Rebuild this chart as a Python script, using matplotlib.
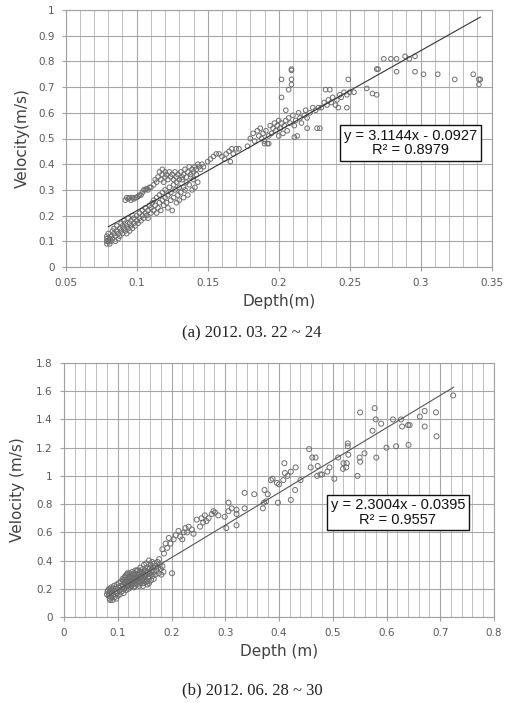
import matplotlib
matplotlib.use("Agg")
import matplotlib.pyplot as plt
from matplotlib.ticker import MultipleLocator

# ---- (a) 2012.03.22~24 ----
a_low = [
    (0.079, 0.09), (0.079, 0.10), (0.079, 0.11), (0.079, 0.12), (0.080, 0.10), (0.080, 0.13),
    (0.081, 0.09), (0.081, 0.11), (0.082, 0.12), (0.082, 0.10), (0.083, 0.14), (0.083, 0.11),
    (0.084, 0.13), (0.084, 0.15), (0.085, 0.12), (0.085, 0.10), (0.086, 0.14), (0.086, 0.16),
    (0.087, 0.13), (0.087, 0.11), (0.088, 0.15), (0.088, 0.12), (0.089, 0.17), (0.089, 0.14),
    (0.090, 0.13), (0.090, 0.16), (0.091, 0.15), (0.091, 0.18), (0.092, 0.14), (0.092, 0.17),
    (0.093, 0.16), (0.093, 0.13), (0.094, 0.19), (0.094, 0.15), (0.095, 0.17), (0.095, 0.14),
    (0.096, 0.18), (0.096, 0.16), (0.097, 0.20), (0.097, 0.15), (0.098, 0.17), (0.098, 0.19),
    (0.099, 0.16), (0.100, 0.18), (0.100, 0.20), (0.101, 0.17), (0.102, 0.19), (0.102, 0.21),
    (0.103, 0.18), (0.104, 0.20), (0.104, 0.22), (0.105, 0.19), (0.106, 0.21), (0.106, 0.23),
    (0.107, 0.20), (0.108, 0.22), (0.108, 0.19), (0.109, 0.24), (0.110, 0.21), (0.110, 0.23),
    (0.111, 0.25), (0.112, 0.22), (0.112, 0.26), (0.113, 0.24), (0.114, 0.21), (0.114, 0.27),
    (0.115, 0.23), (0.116, 0.25), (0.116, 0.28), (0.117, 0.22), (0.118, 0.26), (0.118, 0.29),
    (0.119, 0.24), (0.120, 0.27), (0.120, 0.30), (0.121, 0.25), (0.122, 0.28), (0.122, 0.23),
    (0.123, 0.31), (0.124, 0.26), (0.124, 0.29), (0.125, 0.22), (0.126, 0.27), (0.126, 0.32),
    (0.127, 0.30), (0.128, 0.25), (0.128, 0.33), (0.129, 0.28), (0.130, 0.31), (0.130, 0.26),
    (0.131, 0.29), (0.132, 0.34), (0.133, 0.27), (0.133, 0.31), (0.134, 0.30), (0.135, 0.33),
    (0.136, 0.28), (0.137, 0.32), (0.138, 0.35), (0.139, 0.30), (0.140, 0.34), (0.141, 0.31),
    (0.142, 0.36), (0.143, 0.33),
]
a_upper = [
    (0.092, 0.26), (0.093, 0.27), (0.094, 0.265), (0.095, 0.27), (0.096, 0.26), (0.097, 0.27),
    (0.098, 0.265), (0.099, 0.27), (0.100, 0.27), (0.101, 0.275), (0.102, 0.28), (0.103, 0.28),
    (0.104, 0.29), (0.105, 0.30), (0.106, 0.30), (0.107, 0.305), (0.108, 0.30), (0.109, 0.31),
    (0.110, 0.31), (0.112, 0.32), (0.113, 0.34), (0.114, 0.33), (0.115, 0.35), (0.116, 0.37),
    (0.117, 0.34), (0.118, 0.36), (0.118, 0.38), (0.119, 0.33), (0.120, 0.35), (0.120, 0.37),
    (0.121, 0.36), (0.122, 0.34), (0.123, 0.37), (0.124, 0.35), (0.125, 0.36), (0.126, 0.34),
    (0.127, 0.37), (0.128, 0.35), (0.129, 0.36), (0.130, 0.34), (0.131, 0.37), (0.132, 0.35),
    (0.133, 0.36), (0.134, 0.38), (0.135, 0.35), (0.136, 0.37), (0.137, 0.39), (0.138, 0.36),
    (0.139, 0.38), (0.140, 0.37), (0.141, 0.39), (0.142, 0.38), (0.143, 0.40), (0.144, 0.39),
    (0.145, 0.38), (0.146, 0.40), (0.147, 0.39),
]
a_mid = [
    (0.150, 0.41), (0.152, 0.42), (0.154, 0.43), (0.156, 0.44), (0.158, 0.44), (0.160, 0.43),
    (0.162, 0.42), (0.163, 0.44), (0.165, 0.45), (0.166, 0.41), (0.167, 0.46), (0.168, 0.44),
    (0.170, 0.46), (0.172, 0.46), (0.178, 0.47), (0.180, 0.50), (0.182, 0.52), (0.183, 0.49),
    (0.185, 0.53), (0.186, 0.51), (0.187, 0.54), (0.188, 0.50), (0.189, 0.52), (0.190, 0.49),
    (0.191, 0.53), (0.192, 0.48), (0.193, 0.51), (0.194, 0.55), (0.195, 0.52), (0.196, 0.54),
    (0.197, 0.56), (0.198, 0.53), (0.199, 0.55), (0.200, 0.57), (0.200, 0.51), (0.201, 0.54),
    (0.202, 0.56), (0.203, 0.52), (0.204, 0.55), (0.205, 0.57), (0.206, 0.53), (0.207, 0.58),
    (0.208, 0.56), (0.210, 0.59), (0.211, 0.55), (0.212, 0.57), (0.214, 0.60), (0.215, 0.58),
    (0.216, 0.56), (0.218, 0.59), (0.219, 0.61), (0.220, 0.58), (0.222, 0.60), (0.224, 0.62),
    (0.226, 0.61), (0.228, 0.62), (0.230, 0.62), (0.232, 0.64), (0.234, 0.63), (0.235, 0.65),
    (0.237, 0.64), (0.238, 0.66), (0.240, 0.63), (0.241, 0.65), (0.243, 0.67), (0.244, 0.66),
    (0.246, 0.68), (0.248, 0.67), (0.250, 0.68), (0.253, 0.68),
]
a_high = [
    (0.274, 0.81), (0.279, 0.81), (0.283, 0.81), (0.289, 0.82), (0.292, 0.81), (0.296, 0.82),
    (0.283, 0.76), (0.296, 0.76), (0.302, 0.75), (0.312, 0.75), (0.324, 0.73), (0.337, 0.75),
    (0.341, 0.73), (0.341, 0.71), (0.342, 0.73), (0.269, 0.77), (0.270, 0.77), (0.262, 0.695),
    (0.266, 0.675), (0.269, 0.67), (0.249, 0.73), (0.248, 0.62), (0.242, 0.62), (0.236, 0.69),
    (0.233, 0.69), (0.229, 0.54), (0.227, 0.54), (0.220, 0.54), (0.213, 0.51), (0.211, 0.505),
    (0.202, 0.73), (0.202, 0.66), (0.209, 0.77), (0.209, 0.765), (0.209, 0.73), (0.209, 0.71),
    (0.207, 0.69), (0.205, 0.61), (0.190, 0.48), (0.193, 0.48),
]
a_slope, a_icpt = 3.1144, -0.0927
a_fit_x = [0.08, 0.342]

# ---- (b) 2012.06.28~30 ----
b_cluster = [
    (0.080, 0.16), (0.081, 0.18), (0.082, 0.19), (0.083, 0.15), (0.084, 0.20), (0.085, 0.17),
    (0.085, 0.13), (0.086, 0.12), (0.087, 0.19), (0.088, 0.21), (0.088, 0.14), (0.089, 0.17),
    (0.090, 0.12), (0.091, 0.20), (0.092, 0.16), (0.093, 0.22), (0.094, 0.14), (0.095, 0.18),
    (0.096, 0.20), (0.097, 0.13), (0.098, 0.23), (0.099, 0.17), (0.100, 0.15), (0.101, 0.21),
    (0.102, 0.24), (0.103, 0.19), (0.104, 0.16), (0.105, 0.22), (0.106, 0.25), (0.107, 0.18),
    (0.108, 0.20), (0.109, 0.27), (0.110, 0.23), (0.111, 0.17), (0.112, 0.25), (0.113, 0.28),
    (0.114, 0.21), (0.115, 0.19), (0.116, 0.26), (0.117, 0.30), (0.118, 0.23), (0.119, 0.27),
    (0.120, 0.20), (0.121, 0.29), (0.122, 0.31), (0.123, 0.24), (0.124, 0.27), (0.125, 0.22),
    (0.126, 0.30), (0.127, 0.32), (0.128, 0.25), (0.129, 0.28), (0.130, 0.21), (0.131, 0.31),
    (0.132, 0.26), (0.133, 0.33), (0.134, 0.29), (0.135, 0.23), (0.136, 0.30), (0.137, 0.27),
    (0.138, 0.33), (0.139, 0.25), (0.140, 0.31), (0.141, 0.28), (0.142, 0.35), (0.143, 0.24),
    (0.144, 0.32), (0.145, 0.29), (0.146, 0.26), (0.147, 0.34), (0.148, 0.30), (0.149, 0.37),
    (0.150, 0.27), (0.151, 0.33), (0.152, 0.30), (0.153, 0.38), (0.154, 0.25), (0.155, 0.35),
    (0.156, 0.32), (0.157, 0.28), (0.158, 0.40), (0.159, 0.34), (0.160, 0.31), (0.161, 0.37),
    (0.162, 0.26), (0.163, 0.33), (0.164, 0.39), (0.165, 0.29), (0.166, 0.35), (0.167, 0.32),
    (0.168, 0.38), (0.170, 0.30), (0.171, 0.36), (0.172, 0.33), (0.174, 0.39), (0.175, 0.35),
    (0.176, 0.31), (0.178, 0.37), (0.180, 0.34), (0.181, 0.30), (0.183, 0.36), (0.185, 0.32),
    (0.110, 0.26), (0.112, 0.20), (0.114, 0.29), (0.116, 0.22), (0.118, 0.31), (0.120, 0.25),
    (0.122, 0.27), (0.124, 0.21), (0.126, 0.25), (0.128, 0.30), (0.130, 0.27), (0.132, 0.22),
    (0.134, 0.25), (0.136, 0.33), (0.138, 0.28), (0.140, 0.22), (0.142, 0.29), (0.144, 0.26),
    (0.146, 0.31), (0.148, 0.24), (0.150, 0.32), (0.152, 0.25), (0.154, 0.30), (0.156, 0.28),
    (0.158, 0.24), (0.160, 0.35), (0.115, 0.24), (0.119, 0.22), (0.123, 0.29), (0.127, 0.23),
    (0.131, 0.24), (0.135, 0.27), (0.139, 0.31), (0.143, 0.28), (0.147, 0.22), (0.151, 0.29),
    (0.155, 0.23), (0.159, 0.29), (0.163, 0.30), (0.167, 0.27),
]
b_spread = [
    (0.281, 0.74), (0.275, 0.73), (0.269, 0.70), (0.265, 0.68), (0.259, 0.67), (0.253, 0.64),
    (0.247, 0.69), (0.238, 0.62), (0.232, 0.64), (0.226, 0.63), (0.223, 0.60), (0.216, 0.57),
    (0.213, 0.61), (0.204, 0.55), (0.198, 0.52), (0.195, 0.56), (0.192, 0.49), (0.183, 0.48),
    (0.177, 0.41), (0.201, 0.31), (0.287, 0.72), (0.256, 0.70), (0.278, 0.75), (0.229, 0.60),
    (0.220, 0.55), (0.189, 0.52), (0.208, 0.58), (0.186, 0.45), (0.241, 0.59), (0.262, 0.72),
    (0.724, 1.57), (0.551, 1.45), (0.578, 1.48), (0.580, 1.40), (0.590, 1.37), (0.574, 1.32),
    (0.612, 1.40), (0.627, 1.40), (0.629, 1.35), (0.640, 1.36), (0.643, 1.36), (0.662, 1.42),
    (0.671, 1.46), (0.671, 1.35), (0.692, 1.45), (0.693, 1.28), (0.641, 1.22), (0.618, 1.21),
    (0.600, 1.20), (0.581, 1.13), (0.559, 1.16), (0.550, 1.13), (0.551, 1.10), (0.546, 1.00),
    (0.528, 1.23), (0.528, 1.21), (0.529, 1.15), (0.526, 1.09), (0.520, 1.09), (0.525, 1.06),
    (0.519, 1.05), (0.510, 1.13), (0.503, 0.98), (0.494, 1.06), (0.490, 1.03), (0.480, 1.01),
    (0.477, 1.01), (0.471, 1.00), (0.472, 1.07), (0.468, 1.13), (0.462, 1.13), (0.456, 1.19),
    (0.459, 1.06), (0.440, 0.97), (0.430, 0.90), (0.431, 1.06), (0.422, 1.03), (0.416, 1.00),
    (0.410, 1.09), (0.411, 1.02), (0.408, 0.97), (0.422, 0.83), (0.400, 0.94), (0.396, 0.95),
    (0.388, 0.98), (0.385, 0.97), (0.398, 0.81), (0.379, 0.87), (0.376, 0.82), (0.372, 0.81),
    (0.370, 0.77), (0.373, 0.90), (0.354, 0.87), (0.336, 0.88), (0.336, 0.77), (0.321, 0.76),
    (0.321, 0.73), (0.321, 0.65), (0.306, 0.81), (0.299, 0.71), (0.302, 0.63), (0.306, 0.75),
    (0.312, 0.77),
]
b_slope, b_icpt = 2.3004, -0.0395
b_fit_x = [0.08, 0.725]

W, H = 506, 703
fig = plt.figure(figsize=(W / 100, H / 100), dpi=100)
fig.patch.set_facecolor("white")

TICK_C = "#595959"
GRID_C = "#bfbfbf"


def style_axes(ax, xlim, ylim, xmaj, xmin, ymaj):
    ax.set_xlim(*xlim)
    ax.set_ylim(*ylim)
    ax.xaxis.set_major_locator(MultipleLocator(xmaj))
    ax.xaxis.set_minor_locator(MultipleLocator(xmin))
    ax.yaxis.set_major_locator(MultipleLocator(ymaj))
    ax.grid(True, which="major", color="#a6a6a6", lw=0.8)
    ax.grid(True, which="minor", axis="x", color=GRID_C, lw=0.7)
    ax.set_axisbelow(True)
    for s in ax.spines.values():
        s.set_color("#a0a0a0")
        s.set_linewidth(0.8)
    ax.tick_params(which="major", length=3, color="#a0a0a0", labelsize=7.5,
                   labelcolor=TICK_C, pad=5)
    ax.tick_params(which="minor", length=0)


def plot_points(ax, groups, size):
    for g in groups:
        xs = [p[0] for p in g]
        ys = [p[1] for p in g]
        ax.scatter(xs, ys, s=size, facecolors="none", edgecolors="#6e6e6e",
                   linewidths=0.7, zorder=3)


def fit_box(ax, slope, icpt, r2, bx, by):
    ax.text(bx, by, f"y = {slope:.4f}x - {abs(icpt):.4f}\nR\u00b2 = {r2:.4f}",
            ha="center", va="center", fontsize=10.5, family="Liberation Sans",
            color="#111111", linespacing=1.05, zorder=5,
            bbox=dict(boxstyle="square,pad=0.25", fc="white", ec="#111111", lw=1.0))


# top panel
ax1 = fig.add_axes([65.7 / W, 1 - 267 / H, 426 / W, 257 / H])
style_axes(ax1, (0.05, 0.35), (0, 1), 0.05, 0.01, 0.1)
ax1.set_xticklabels([f"{v:g}" for v in ax1.get_xticks()])
ax1.set_yticklabels([f"{v:g}" for v in ax1.get_yticks()])
plot_points(ax1, [a_low, a_upper, a_mid, a_high], 11)
ax1.plot(a_fit_x, [a_slope * x + a_icpt for x in a_fit_x], color="#333333", lw=0.8, zorder=4)
fit_box(ax1, a_slope, a_icpt, 0.8979, 0.2928, 0.482)
ax1.set_xlabel("Depth(m)", fontsize=11, color="#404040", labelpad=4)
ax1.set_ylabel("Velocity(m/s)", fontsize=11, color="#404040", labelpad=6)

# bottom panel
ax2 = fig.add_axes([64 / W, 1 - 617 / H, 430 / W, 254 / H])
style_axes(ax2, (0, 0.8), (0, 1.8), 0.1, 0.02, 0.2)
ax2.set_xticklabels([f"{v:g}" for v in ax2.get_xticks()])
ax2.set_yticklabels([f"{v:g}" for v in ax2.get_yticks()])
plot_points(ax2, [b_cluster, b_spread], 13)
ax2.plot(b_fit_x, [b_slope * x + b_icpt for x in b_fit_x], color="#555555", lw=0.8, zorder=4)
fit_box(ax2, b_slope, b_icpt, 0.9557, 0.621, 0.741)
ax2.set_xlabel("Depth (m)", fontsize=11, color="#404040", labelpad=4)
ax2.set_ylabel("Velocity (m/s)", fontsize=11, color="#404040", labelpad=8)

fig.text(252 / W, 1 - 333 / H, "(a) 2012. 03. 22 ~ 24", ha="center", va="center",
         fontsize=12, family="Liberation Serif", color="#222222")
fig.text(252 / W, 1 - 690 / H, "(b) 2012. 06. 28 ~ 30", ha="center", va="center",
         fontsize=12, family="Liberation Serif", color="#222222")

fig.savefig("out.png", dpi=100)
